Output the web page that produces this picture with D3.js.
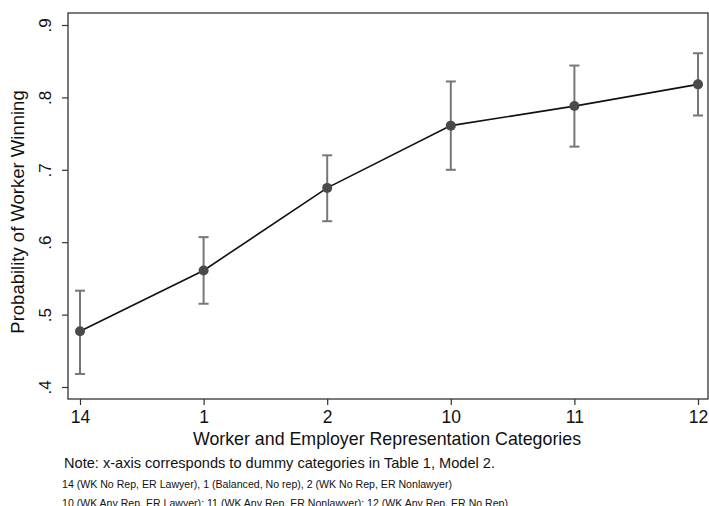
<!DOCTYPE html>
<html><head><meta charset="utf-8">
<script src="https://cdn.jsdelivr.net/npm/d3@7"></script>
<style>body{margin:0;background:#fff;} svg{display:block;font-family:"Liberation Sans",Arial,sans-serif;}</style>
</head><body><svg id="c" width="709" height="506"></svg>
<script>
const categories = ["14","1","2","10","11","12"];
const estimates = [0.477, 0.561, 0.675, 0.761, 0.788, 0.818];
const lower = [0.418, 0.515, 0.629, 0.700, 0.732, 0.775];
const upper = [0.533, 0.607, 0.720, 0.822, 0.844, 0.861];
const yTicks = [0.4, 0.5, 0.6, 0.7, 0.8, 0.9];
const yTickLabels = [".4", ".5", ".6", ".7", ".8", ".9"];
const xTitle = "Worker and Employer Representation Categories";
const yTitle = "Probability of Worker Winning";
const notes = ["Note: x-axis corresponds to dummy categories in Table 1, Model 2.",
  "14 (WK No Rep, ER Lawyer), 1 (Balanced, No rep), 2 (WK No Rep, ER Nonlawyer)",
  "10 (WK Any Rep, ER Lawyer); 11 (WK Any Rep, ER Nonlawyer); 12 (WK Any Rep, ER No Rep)"];

const svg = d3.select("#c");
const L = 68, R = 708, T = 13, B = 399;
const x = d3.scalePoint().domain(categories).range([80, 698]);
const y = d3.scaleLinear().domain([0.4, 0.9]).range([387, 25]);

// frame
svg.append("rect").attr("x", L).attr("y", T).attr("width", R - L).attr("height", B - T)
  .attr("fill", "none").attr("stroke", "#333").attr("stroke-width", 1.3);

// y axis
const ya = svg.append("g").attr("transform", `translate(${L},0)`)
  .call(d3.axisLeft(y).tickValues(yTicks).tickSize(6).tickFormat((d, i) => yTickLabels[i]));
ya.select(".domain").remove();
ya.selectAll(".tick line").attr("stroke", "#333").attr("stroke-width", 1.2);
ya.selectAll(".tick text").attr("font-size", 17).attr("fill", "#111")
  .attr("text-anchor", "middle").attr("x", null)
  .attr("transform", "translate(-23,0) rotate(-90)").attr("dy", "0.35em");

// x axis
const xa = svg.append("g").attr("transform", `translate(0,${B})`)
  .call(d3.axisBottom(x).tickSize(6));
xa.select(".domain").remove();
xa.selectAll(".tick line").attr("stroke", "#333").attr("stroke-width", 1.2);
xa.selectAll(".tick text").attr("font-size", 17.5).attr("fill", "#111").attr("y", 24).attr("dy", null);

// titles
svg.append("text").attr("x", 387).attr("y", 445).attr("text-anchor", "middle")
  .attr("font-size", 17.8).attr("fill", "#111").text(xTitle);
svg.append("text").attr("transform", "translate(24,212) rotate(-90)").attr("text-anchor", "middle")
  .attr("font-size", 18.5).attr("fill", "#111").text(yTitle);

// notes
svg.append("text").attr("x", 64).attr("y", 468).attr("font-size", 14.6)
  .attr("textLength", 431).attr("lengthAdjust", "spacingAndGlyphs").attr("fill", "#111").text(notes[0]);
svg.append("text").attr("x", 62).attr("y", 488).attr("font-size", 11)
  .attr("textLength", 390).attr("lengthAdjust", "spacingAndGlyphs").attr("fill", "#111").text(notes[1]);
svg.append("text").attr("x", 62).attr("y", 507).attr("font-size", 11)
  .attr("textLength", 446).attr("lengthAdjust", "spacingAndGlyphs").attr("fill", "#111").text(notes[2]);

const data = categories.map((c, i) => ({c, e: estimates[i], lo: lower[i], hi: upper[i]}));

// error bars
const eb = svg.append("g").attr("stroke", "#777").attr("stroke-width", 2);
data.forEach(d => {
  const cx = x(d.c);
  eb.append("line").attr("x1", cx).attr("x2", cx).attr("y1", y(d.lo)).attr("y2", y(d.hi));
  eb.append("line").attr("x1", cx - 5).attr("x2", cx + 5).attr("y1", y(d.lo)).attr("y2", y(d.lo));
  eb.append("line").attr("x1", cx - 5).attr("x2", cx + 5).attr("y1", y(d.hi)).attr("y2", y(d.hi));
});

// line
svg.append("path").datum(data).attr("fill", "none").attr("stroke", "#111").attr("stroke-width", 1.6)
  .attr("d", d3.line().x(d => x(d.c)).y(d => y(d.e)));

// markers
svg.append("g").selectAll("circle").data(data).join("circle")
  .attr("cx", d => x(d.c)).attr("cy", d => y(d.e)).attr("r", 5).attr("fill", "#4a4a4a");
</script></body></html>
